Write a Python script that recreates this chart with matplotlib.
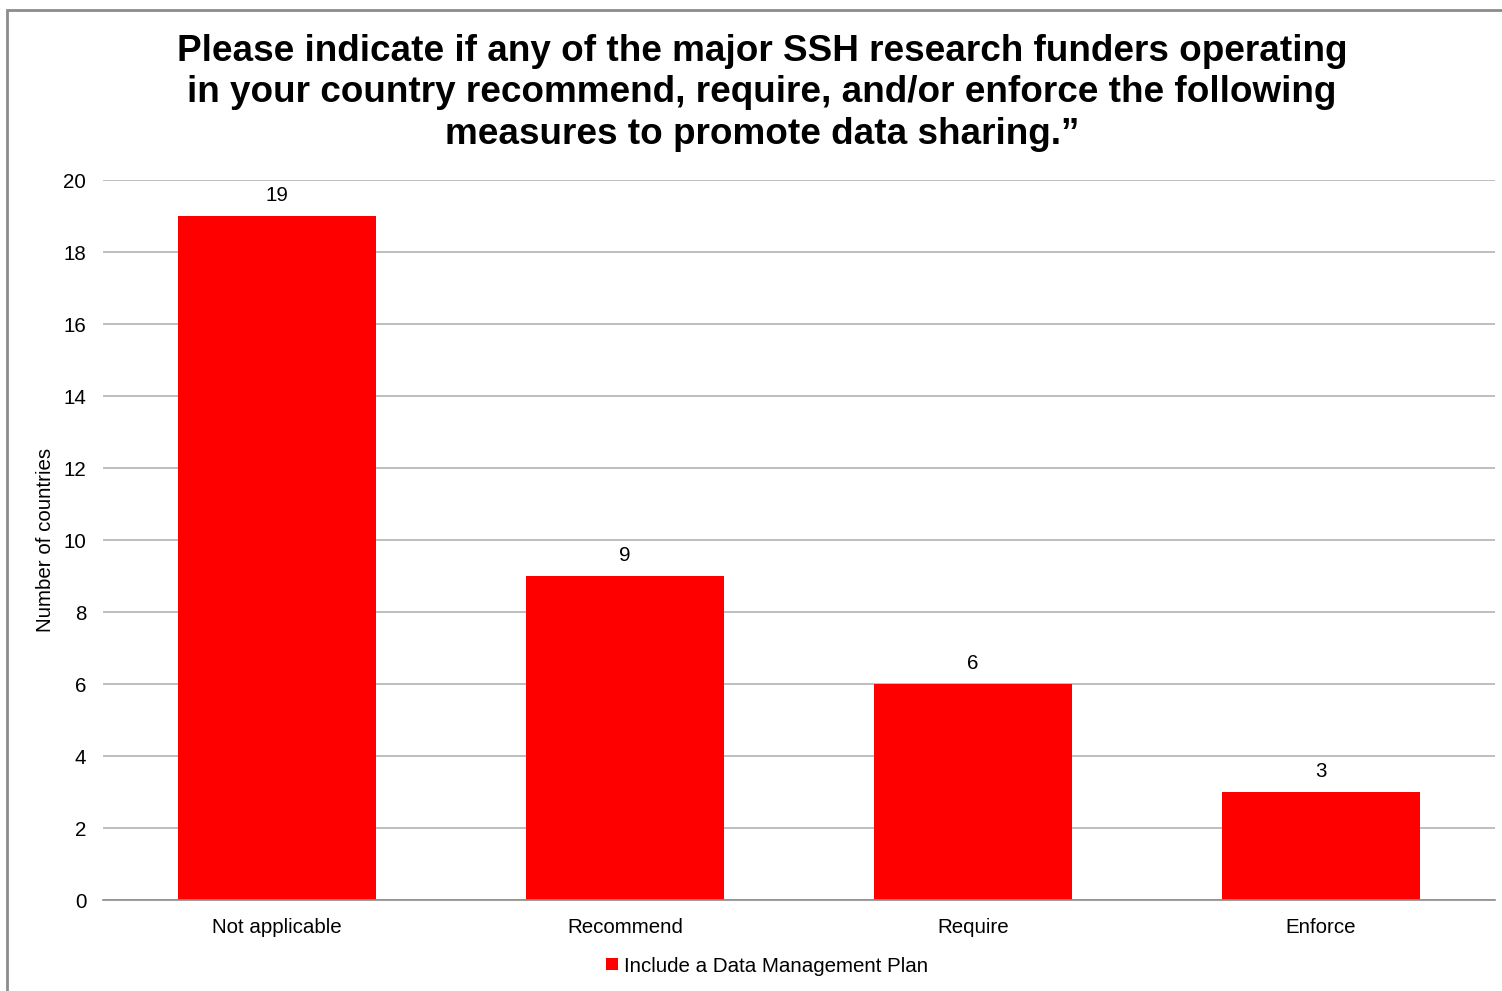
import matplotlib.pyplot as plt
from matplotlib.patches import Rectangle

plt.rcParams["font.family"] = ["Liberation Sans", "DejaVu Sans"]

categories = ["Not applicable", "Recommend", "Require", "Enforce"]
values = [19, 9, 6, 3]
series_name = "Include a Data Management Plan"
title = ("Please indicate if any of the major SSH research funders operating\n"
         "in your country recommend, require, and/or enforce the following\n"
         "measures to promote data sharing.\u201d")

W, H = 1502, 991
FS = 14.8
fig = plt.figure(figsize=(W / 100, H / 100), dpi=100)

# outer chart border (cut off on right and bottom)
fig.patches.append(Rectangle((7 / W, -0.1), 1.2, 1 - 10 / H + 0.1,
                             transform=fig.transFigure, fill=False,
                             edgecolor="#8c8c8c", linewidth=2))

ax = fig.add_axes([103 / W, 1 - 900 / H, (1495 - 103) / W, (900 - 180) / H])
x = range(len(categories))
bars = ax.bar(x, values, width=0.57, color="#ff0000", label=series_name, zorder=3)

ax.set_xlim(-0.5, len(categories) - 0.5)
ax.set_ylim(0, 20)
ax.set_yticks(range(0, 21, 2))
ax.set_xticks(list(x))
ax.set_xticklabels(categories)
ax.tick_params(axis="both", length=0, labelsize=FS, colors="black")
ax.tick_params(axis="x", pad=13)
ax.tick_params(axis="y", pad=12)
ax.grid(axis="y", color="#b3b3b3", linewidth=1.2, zorder=0)
for s in ["top", "right", "left"]:
    ax.spines[s].set_visible(False)
ax.spines["bottom"].set_color("#8c8c8c")
ax.spines["bottom"].set_linewidth(1.2)
ax.spines["bottom"].set_zorder(4)

for b, v in zip(bars, values):
    ax.annotate(str(v), (b.get_x() + b.get_width() / 2, v), xytext=(0, 8),
                textcoords="offset points", ha="center", va="bottom", fontsize=FS)

fig.text(46 / W, 1 - 540 / H, "Number of countries", rotation=90,
         ha="center", va="center", fontsize=FS)

fig.text(762 / W, 1 - 93 / H, title, ha="center", va="center",
         fontsize=26.6, fontweight="bold", linespacing=1.25)

fig.legend(loc="center", bbox_to_anchor=(767 / W, 1 - 966 / H), frameon=False,
           fontsize=FS, handlelength=0.55, handleheight=0.55, handletextpad=0.3)

fig.savefig("out.png", dpi=100)
